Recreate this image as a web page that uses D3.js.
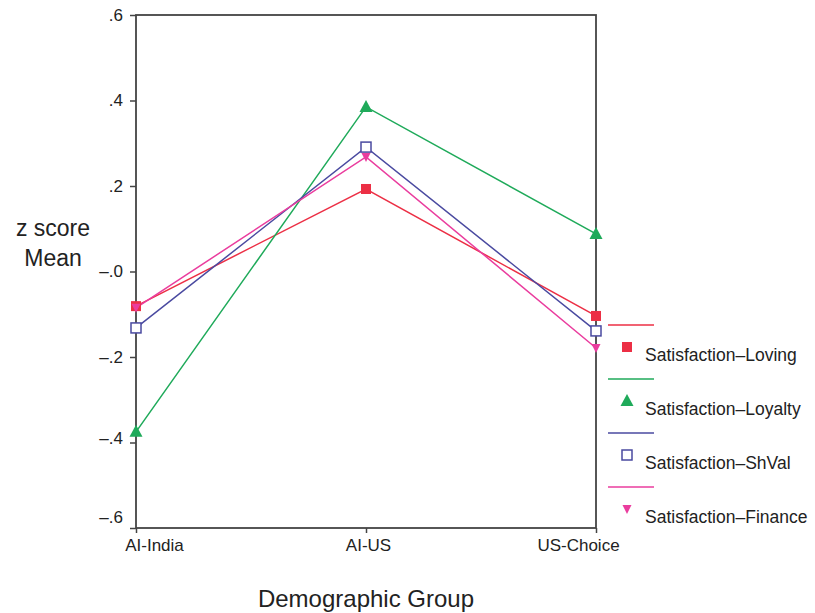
<!DOCTYPE html>
<html>
<head>
<meta charset="utf-8">
<script src="https://cdn.jsdelivr.net/npm/d3@7"></script>
<style>
  body { margin: 0; background: #fff; }
  text { font-family: "Liberation Sans", Arial, sans-serif; fill: #222; }
</style>
</head>
<body>
<script>
// data
let groups = ["AI-India", "AI-US", "US-Choice"];
let seriesNames = ["Satisfaction\u2013Loving", "Satisfaction\u2013Loyalty", "Satisfaction\u2013ShVal", "Satisfaction\u2013Finance"];
let loving = [-0.081, 0.193, -0.104];
let loyalty = [-0.375, 0.385, 0.088];
let shval = [-0.132, 0.291, -0.139];
let finance = [-0.085, 0.268, -0.179];
let yTicks = [0.6, 0.4, 0.2, 0, -0.2, -0.4, -0.6];
let yTickLabels = [".6", ".4", ".2", "\u2013.0", "\u2013.2", "\u2013.4", "\u2013.6"];

let colors = ["#ec2f45", "#1faa5a", "#4a4aa0", "#ea3d9e"];
let shapes = ["square", "triangle", "hollow", "down"];

let series = [loving, loyalty, shval, finance].map((vals, i) => ({
	name: seriesNames[i],
	color: colors[i],
	shape: shapes[i],
	values: vals.map((v, j) => ({ group: groups[j], value: v }))
}));

let svg = d3.select("body").append("svg")
	.attr("width", 815)
	.attr("height", 613);

let margin = { top: 15, left: 136, right: 219, bottom: 85 };
let width = 815 - margin.left - margin.right;
let height = 613 - margin.top - margin.bottom;

let x = d3.scalePoint().domain(groups).range([0, width]);
let y = d3.scaleLinear().domain([-0.6, 0.6]).range([height, 0]);

let g = svg.append("g").attr("transform", `translate(${margin.left},${margin.top})`);

// frame
g.append("rect")
	.attr("x", 0).attr("y", 0)
	.attr("width", width).attr("height", height)
	.attr("fill", "none")
	.attr("stroke", "#444")
	.attr("stroke-width", 1.8);

// y axis
let yAxis = d3.axisLeft(y)
	.tickValues(yTicks)
	.tickSize(6)
	.tickPadding(7)
	.tickFormat((d, i) => yTickLabels[i]);

let yG = g.append("g").call(yAxis);
yG.select(".domain").remove();
yG.selectAll("line").attr("stroke", "#444").attr("stroke-width", 1.5);
yG.selectAll("text")
	.attr("font-size", 17)
	.attr("dy", d => d === -0.6 ? "-0.3em" : (d === -0.4 ? "0.05em" : "0.32em"));

// x axis, the end labels are pulled inward like in the original
let xAxis = d3.axisBottom(x).tickSize(5).tickPadding(6);
let xG = g.append("g").attr("transform", `translate(0,${height})`).call(xAxis);
xG.select(".domain").remove();
xG.selectAll("line").attr("stroke", "#444").attr("stroke-width", 1.5);
xG.selectAll("text")
	.attr("font-size", 17)
	.attr("dx", (d, i) => i === 0 ? 18 : (i === groups.length - 1 ? -18 : 2));

// axis titles
g.append("text")
	.attr("x", width / 2)
	.attr("y", height + 79)
	.attr("text-anchor", "middle")
	.attr("font-size", 24)
	.text("Demographic Group");

svg.append("text")
	.attr("x", 53).attr("y", 236)
	.attr("text-anchor", "middle")
	.attr("font-size", 23)
	.text("z score");
svg.append("text")
	.attr("x", 53).attr("y", 266)
	.attr("text-anchor", "middle")
	.attr("font-size", 23)
	.text("Mean");

// lines
let line = d3.line()
	.x(d => x(d.group))
	.y(d => y(d.value));

g.selectAll(".line")
	.data(series)
	.enter().append("path")
	.attr("class", "line")
	.attr("fill", "none")
	.attr("stroke", d => d.color)
	.attr("stroke-width", 1.5)
	.attr("d", d => line(d.values));

function marker(sel, shape, color) {
	if (shape === "square") {
		sel.append("rect").attr("x", -5).attr("y", -5).attr("width", 10).attr("height", 10).attr("fill", color);
	} else if (shape === "hollow") {
		sel.append("rect").attr("x", -5).attr("y", -5).attr("width", 10).attr("height", 10)
			.attr("fill", "#fff").attr("stroke", color).attr("stroke-width", 1.5);
	} else if (shape === "triangle") {
		sel.append("path").attr("d", "M0,-7L6.5,5L-6.5,5Z").attr("fill", color);
	} else {
		sel.append("path").attr("d", "M0,5L-4.5,-4L4.5,-4Z").attr("fill", color);
	}
}

// markers
series.forEach(s => {
	s.values.forEach(v => {
		let m = g.append("g").attr("transform", `translate(${x(v.group)},${y(v.value)})`);
		marker(m, s.shape, s.color);
	});
});

// legend
let legend = svg.append("g").attr("transform", "translate(608, 325)");
series.forEach((s, i) => {
	let row = legend.append("g").attr("transform", `translate(0, ${i * 54})`);
	row.append("line")
		.attr("x1", 0).attr("x2", 46)
		.attr("y1", 0).attr("y2", 0)
		.attr("stroke", s.color)
		.attr("stroke-width", 1.5);
	let m = row.append("g").attr("transform", "translate(19, 22)");
	marker(m, s.shape, s.color);
	row.append("text")
		.attr("x", 37).attr("y", 36)
		.attr("font-size", 17.5)
		.text(s.name);
});
</script>
</body>
</html>
